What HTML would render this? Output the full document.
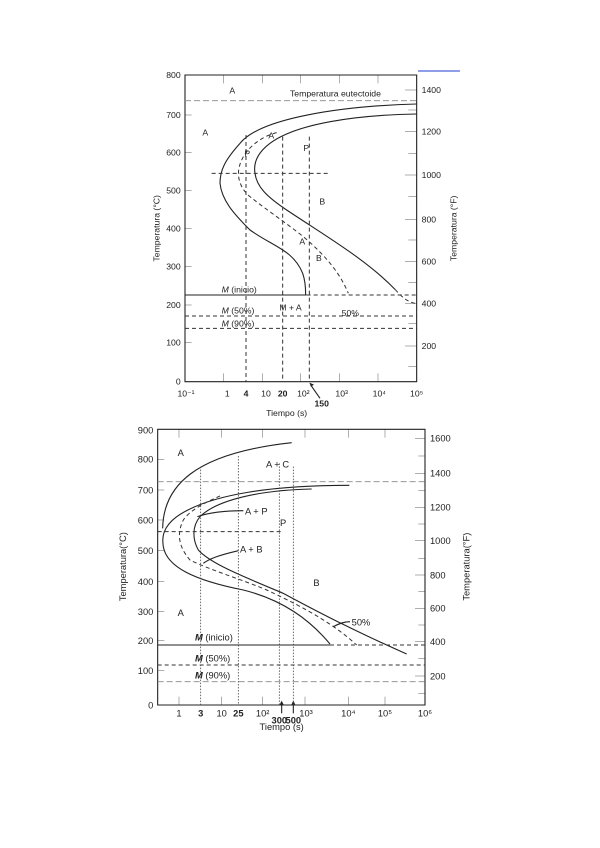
<!DOCTYPE html>
<html><head><meta charset="utf-8"><style>
html,body{margin:0;padding:0;background:#fff;}
svg{display:block;}
text{font-family:"Liberation Sans",sans-serif;fill:#222;}
.ln{fill:none;stroke:#222;stroke-width:1.1;vector-effect:non-scaling-stroke;}
.ds{fill:none;stroke:#333;stroke-width:1;stroke-dasharray:4 3;vector-effect:non-scaling-stroke;}
.dt{fill:none;stroke:#444;stroke-width:0.8;stroke-dasharray:1.5 1.5;vector-effect:non-scaling-stroke;}
.lt{fill:none;stroke:#888;stroke-width:0.8;stroke-dasharray:6 3;vector-effect:non-scaling-stroke;}
</style></head><body>
<svg width="600" height="848" viewBox="0 0 600 848" xmlns="http://www.w3.org/2000/svg">
<rect width="600" height="848" fill="#fff"/>
<line x1="418" y1="71" x2="460" y2="71" stroke="#6b7fe0" stroke-width="1.5"/>
<!-- TOP CHART -->
<g transform="translate(140,60) scale(0.33333)" font-size="26">
<rect x="135" y="45" width="695" height="920" class="ln"/>
<g class="ln">
<path d="M251,45v25M367,45v25M482,45v25M598,45v25M714,45v25M251,965v-25M367,965v-25M482,965v-25M598,965v-25M714,965v-25"/>
<path d="M135,165h20M135,277h20M135,392h20M135,505h20M135,620h20M135,735h20M135,848h20"/>
<path d="M795,90h35M805,150h25M795,215h35M805,280h25M795,345h35M805,410h25M795,478h35M805,540h25M795,605h35M805,668h25M795,730h35M805,790h25M795,858h35M805,920h25"/>
</g>
<g text-anchor="end">
<text x="122" y="54">800</text><text x="122" y="174">700</text><text x="122" y="286">600</text><text x="122" y="401">500</text><text x="122" y="514">400</text><text x="122" y="629">300</text><text x="122" y="744">200</text><text x="122" y="857">100</text><text x="122" y="974">0</text>
</g>
<g text-anchor="start">
<text x="845" y="99">1400</text><text x="845" y="224">1200</text><text x="845" y="354">1000</text><text x="845" y="487">800</text><text x="845" y="614">600</text><text x="845" y="739">400</text><text x="845" y="867">200</text>
</g>
<g text-anchor="middle">
<text x="138" y="1010">10⁻¹</text><text x="262" y="1010">1</text><text x="318" y="1010" font-weight="bold">4</text><text x="378" y="1010">10</text><text x="428" y="1010" font-weight="bold">20</text><text x="490" y="1010">10²</text><text x="605" y="1010">10³</text><text x="718" y="1010">10⁴</text><text x="830" y="1010">10⁵</text>
<text x="545" y="1040" font-weight="bold">150</text>
<text x="440" y="1068">Tiempo (s)</text>
<text transform="translate(58,505) rotate(-90)">Temperatura (°C)</text>
<text transform="translate(950,505) rotate(-90)">Temperatura (°F)</text>
</g>
<path d="M540,1015 L512,975" class="ln" stroke-width="2"/>
<path d="M508,968 l14,6 l-9,6z" fill="#222"/>
<line x1="135" y1="122" x2="830" y2="122" class="lt"/>
<text x="450" y="110">Temperatura eutectoide</text>
<path class="ln" d="M830,132 C600,138 360,175 300,250 C255,300 240,330 240,370 C245,420 280,460 330,510 C400,560 460,570 488,640 C497,665 497,690 497,705"/>
<path class="ln" d="M830,162 C650,165 470,190 390,250 C350,280 340,310 345,340 C350,380 380,410 440,450 C560,530 680,600 765,688"/>
<path class="ds" d="M765,688 C785,710 800,725 825,730"/>
<path class="ds" d="M410,218 C360,230 310,270 298,320 C290,350 300,385 330,410 C380,450 440,490 490,530 C560,590 600,640 625,700"/>
<line x1="135" y1="705" x2="500" y2="705" class="ln" stroke-width="1.5"/>
<line x1="500" y1="705" x2="830" y2="705" class="ds"/>
<line x1="135" y1="768" x2="830" y2="768" class="ds"/>
<line x1="135" y1="805" x2="830" y2="805" class="ds" stroke-width="1.4"/>
<line x1="215" y1="340" x2="570" y2="340" class="ds"/>
<line x1="318" y1="225" x2="318" y2="965" class="ds"/>
<line x1="428" y1="230" x2="428" y2="965" class="ds"/>
<line x1="508" y1="230" x2="508" y2="965" class="ds"/>
<text x="268" y="100">A</text><text x="187" y="226">A</text><text x="385" y="236">A</text><text x="313" y="290">P</text><text x="490" y="273">P</text><text x="538" y="433">B</text><text x="478" y="553">A</text><text x="528" y="603">B</text>
<text x="245" y="698"><tspan font-style="italic">M</tspan> (inicio)</text>
<text x="605" y="768">50%</text>
<text x="245" y="760"><tspan font-style="italic">M</tspan> (50%)</text>
<text x="418" y="752">M + A</text>
<text x="245" y="800"><tspan font-style="italic">M</tspan> (90%)</text>
</g>
<!-- BOTTOM CHART -->
<g transform="translate(110,420) scale(0.33333)" font-size="28">
<rect x="143" y="28" width="802" height="827" class="ln"/>
<g class="ln">
<path d="M207,28v25M335,28v25M458,28v25M585,28v25M715,28v25M825,28v25M207,855v-25M335,855v-25M458,855v-25M585,855v-25M715,855v-25M825,855v-25"/>
<path d="M143,118h20M143,210h20M143,300h20M143,392h20M143,485h20M143,575h20M143,662h20M143,752h20"/>
<path d="M915,55h30M925,108h20M915,160h30M925,212h20M915,262h30M925,312h20M915,362h30M925,415h20M915,465h30M925,515h20M915,565h30M925,615h20M915,665h30M925,715h20M915,768h30M925,820h20"/>
</g>
<g text-anchor="end">
<text x="130" y="40">900</text><text x="130" y="128">800</text><text x="130" y="220">700</text><text x="130" y="310">600</text><text x="130" y="402">500</text><text x="130" y="495">400</text><text x="130" y="585">300</text><text x="130" y="672">200</text><text x="130" y="762">100</text><text x="130" y="865">0</text>
</g>
<g text-anchor="start">
<text x="960" y="65">1600</text><text x="960" y="170">1400</text><text x="960" y="272">1200</text><text x="960" y="372">1000</text><text x="960" y="475">800</text><text x="960" y="575">600</text><text x="960" y="675">400</text><text x="960" y="778">200</text>
</g>
<g text-anchor="middle">
<text x="207" y="890">1</text><text x="272" y="890" font-weight="bold">3</text><text x="335" y="890">10</text><text x="385" y="890" font-weight="bold">25</text><text x="458" y="890">10²</text><text x="588" y="890">10³</text><text x="715" y="890">10⁴</text><text x="825" y="890">10⁵</text><text x="945" y="890">10⁶</text>
<text x="508" y="910" font-weight="bold">300</text><text x="550" y="910" font-weight="bold">500</text>
<text x="515" y="930">Tiempo (s)</text>
<text transform="translate(48,440) rotate(-90)">Temperatura(°C)</text>
<text transform="translate(1078,440) rotate(-90)">Temperatura(°F)</text>
</g>
<path d="M515,842 l-7,14 h14z M550,842 l-7,14 h14z" fill="#222"/>
<line x1="515" y1="850" x2="515" y2="880" class="ln"/><line x1="550" y1="850" x2="550" y2="880" class="ln"/>
<line x1="143" y1="185" x2="945" y2="185" class="lt"/>
<path class="ln" d="M158,325 C160,200 250,100 545,68"/>
<path class="ln" d="M718,196 C500,196 300,220 200,290 C160,320 155,350 160,380 C170,440 250,480 400,510 C520,540 600,600 660,672"/>
<path class="ln" d="M605,207 C450,210 320,240 270,290 C245,320 248,360 265,390 C300,430 400,470 520,520 C650,590 750,640 890,702"/>
<path class="ds" d="M330,228 C290,245 240,270 220,300 C200,340 205,380 240,420 C300,450 400,480 470,510 C600,570 680,620 740,675"/>
<line x1="143" y1="675" x2="660" y2="675" class="ln" stroke-width="1.5"/>
<line x1="660" y1="675" x2="945" y2="675" class="ds"/>
<line x1="143" y1="735" x2="945" y2="735" class="ds" stroke-width="1.4"/>
<line x1="143" y1="785" x2="945" y2="785" class="lt"/>
<line x1="143" y1="335" x2="520" y2="335" class="ds"/>
<line x1="272" y1="140" x2="272" y2="855" class="dt"/>
<line x1="385" y1="108" x2="385" y2="855" class="dt"/>
<line x1="508" y1="130" x2="508" y2="855" class="dt"/>
<line x1="550" y1="140" x2="550" y2="855" class="dt"/>
<text x="203" y="108">A</text><text x="468" y="143">A + C</text><text x="405" y="283">A + P</text><text x="510" y="318">P</text><text x="390" y="398">A + B</text><text x="610" y="498">B</text><text x="203" y="588">A</text><text x="725" y="616">50%</text>
<path class="ln" d="M400,272 C330,272 290,280 262,290 M385,392 C330,405 300,415 280,430 M720,605 C700,605 685,612 670,620"/>
<text x="255" y="662"><tspan font-style="italic" font-weight="bold">M</tspan> (inicio)</text>
<text x="255" y="725"><tspan font-style="italic" font-weight="bold">M</tspan> (50%)</text>
<text x="255" y="775"><tspan font-style="italic" font-weight="bold">M</tspan> (90%)</text>
</g>
</svg>
</body></html>
